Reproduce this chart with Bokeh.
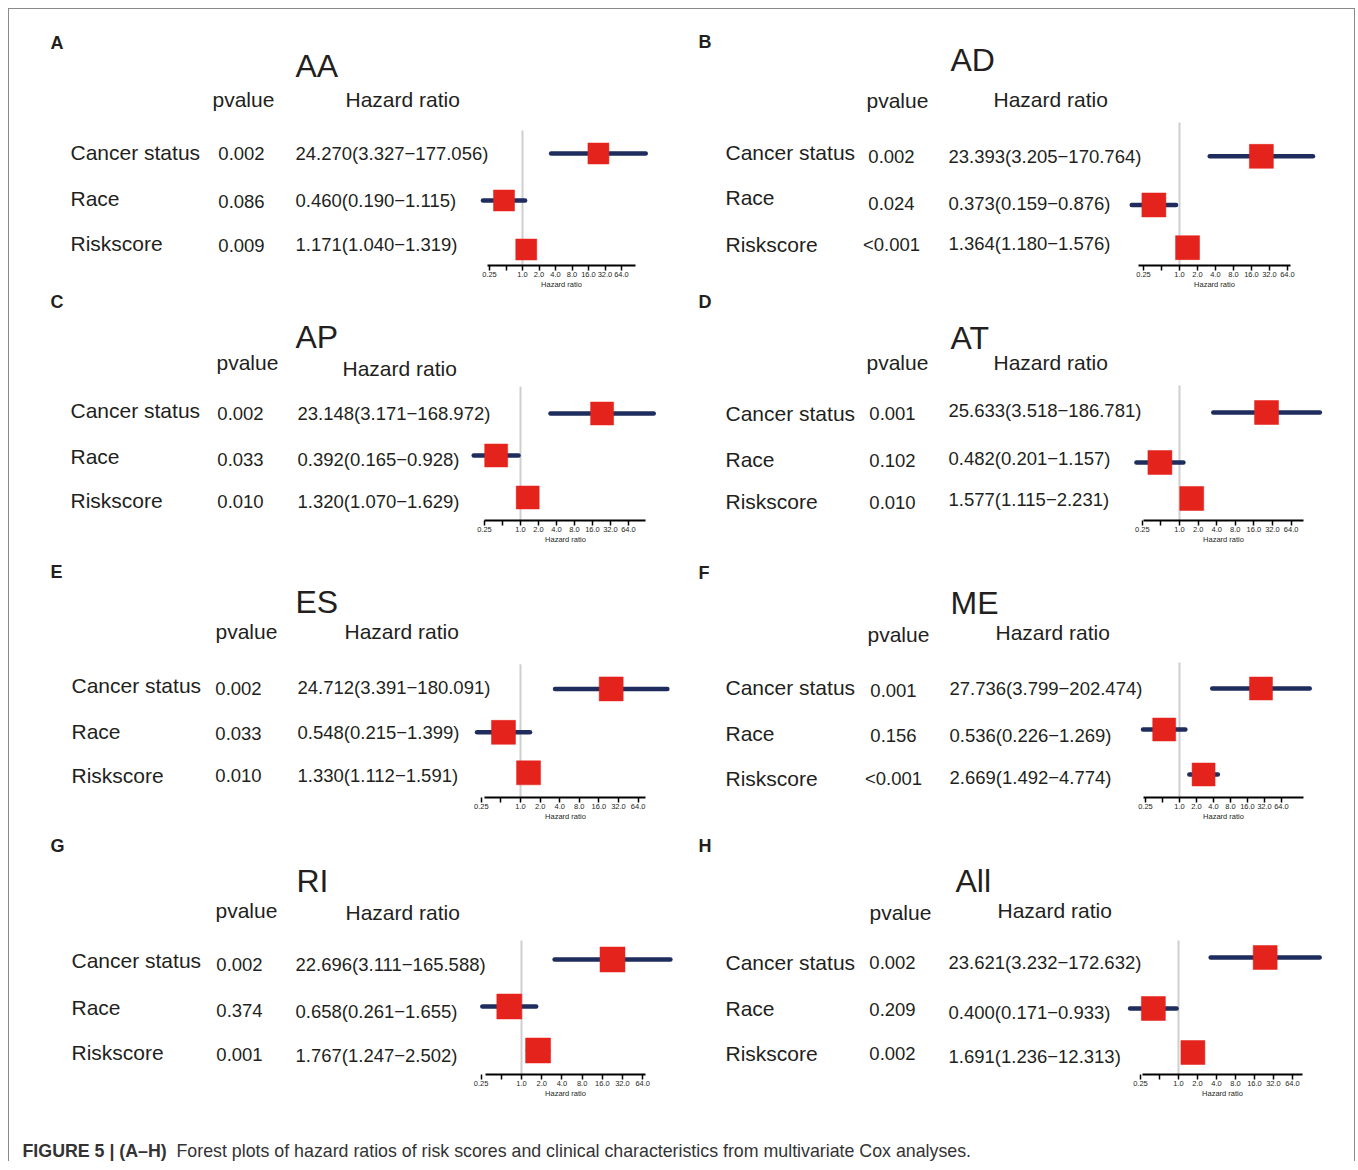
from bokeh.plotting import figure
from bokeh.models import Range1d, LogScale, LogAxis, LinearAxis, FixedTicker, CustomJSTickFormatter
from bokeh.layouts import column, row
from bokeh.embed import file_html
from bokeh.resources import INLINE
from bokeh.core.properties import value

# ---------------- data ----------------
PANEL_LETTERS = ["A", "B", "C", "D", "E", "F", "G", "H"]
COHORTS = ["AA", "AD", "AP", "AT", "ES", "ME", "RI", "All"]
VARIABLES = ["Cancer status", "Race", "Riskscore"]
HR = [[24.270, 0.460, 1.171], [23.393, 0.373, 1.364], [23.148, 0.392, 1.320], [25.633, 0.482, 1.577],
      [24.712, 0.548, 1.330], [27.736, 0.536, 2.669], [22.696, 0.658, 1.767], [23.621, 0.400, 1.691]]
LOWER = [[3.327, 0.190, 1.040], [3.205, 0.159, 1.180], [3.171, 0.165, 1.070], [3.518, 0.201, 1.115],
         [3.391, 0.215, 1.112], [3.799, 0.226, 1.492], [3.111, 0.261, 1.247], [3.232, 0.171, 1.236]]
UPPER = [[177.056, 1.115, 1.319], [170.764, 0.876, 1.576], [168.972, 0.928, 1.629], [186.781, 1.157, 2.231],
         [180.091, 1.399, 1.591], [202.474, 1.269, 4.774], [165.588, 1.655, 2.502], [172.632, 0.933, 2.313]]
PVALUES = [["0.002", "0.086", "0.009"], ["0.002", "0.024", "<0.001"], ["0.002", "0.033", "0.010"],
           ["0.001", "0.102", "0.010"], ["0.002", "0.033", "0.010"], ["0.001", "0.156", "<0.001"],
           ["0.002", "0.374", "0.001"], ["0.002", "0.209", "0.002"]]
HR_TEXT = [["24.270(3.327\u2212177.056)", "0.460(0.190\u22121.115)", "1.171(1.040\u22121.319)"],
           ["23.393(3.205\u2212170.764)", "0.373(0.159\u22120.876)", "1.364(1.180\u22121.576)"],
           ["23.148(3.171\u2212168.972)", "0.392(0.165\u22120.928)", "1.320(1.070\u22121.629)"],
           ["25.633(3.518\u2212186.781)", "0.482(0.201\u22121.157)", "1.577(1.115\u22122.231)"],
           ["24.712(3.391\u2212180.091)", "0.548(0.215\u22121.399)", "1.330(1.112\u22121.591)"],
           ["27.736(3.799\u2212202.474)", "0.536(0.226\u22121.269)", "2.669(1.492\u22124.774)"],
           ["22.696(3.111\u2212165.588)", "0.658(0.261\u22121.655)", "1.767(1.247\u22122.502)"],
           ["23.621(3.232\u2212172.632)", "0.400(0.171\u22120.933)", "1.691(1.236\u221212.313)"]]
AXIS_TICKS = [0.25, 0.5, 1, 2, 4, 8, 16, 32, 64]
CAPTION_BOLD = "FIGURE 5 | (A\u2013H)"
CAPTION_TEXT = "Forest plots of hazard ratios of risk scores and clinical characteristics from multivariate Cox analyses."

# ---------------- layout (page pixel positions) ----------------
COL_LEFT = [9, 681]
COL_W = [672, 673]
ROW_TOPS = [9, 292, 563, 833]
ROW_H = [283, 271, 270, 282]
CAP_H = 46

LAYOUT = [
    dict(letter=(50, 42), title=(295, 65), pvh=(212, 99), hrh=(345, 99), lab_x=70, lab_y=[152, 198, 243],
         pv_x=241, pv_y=[153, 201, 245], hrt_x=295, hrt_y=[153, 200, 244], rows=[153, 200, 249],
         ref_x=522, scale=16.5, ref_top=130, axis_y=265, axis_lr=(487, 635), box=21),
    dict(letter=(698, 42), title=(950, 60), pvh=(866, 101), hrh=(993, 100), lab_x=725, lab_y=[153, 198, 246],
         pv_x=891, pv_y=[157, 205, 246], hrt_x=948, hrt_y=[157, 205, 245], rows=[157, 206, 249],
         ref_x=1179, scale=18.0, ref_top=123, axis_y=267, axis_lr=(1138, 1290), box=24),
    dict(letter=(50, 301), title=(295, 336), pvh=(216, 362), hrh=(342, 368), lab_x=70, lab_y=[410, 456, 500],
         pv_x=240, pv_y=[413, 459, 501], hrt_x=297, hrt_y=[413, 459, 501], rows=[413, 455, 497],
         ref_x=520, scale=18.0, ref_top=386, axis_y=520, axis_lr=(484, 645), box=23),
    dict(letter=(698, 301), title=(950, 337), pvh=(866, 362), hrh=(993, 362), lab_x=725, lab_y=[413, 459, 501],
         pv_x=892, pv_y=[413, 460, 502], hrt_x=948, hrt_y=[410, 458, 499], rows=[412, 462, 498],
         ref_x=1179, scale=18.6, ref_top=385, axis_y=520, axis_lr=(1143, 1303), box=24),
    dict(letter=(50, 572), title=(295, 602), pvh=(215, 632), hrh=(344, 632), lab_x=71, lab_y=[687, 733, 778],
         pv_x=238, pv_y=[690, 735, 778], hrt_x=297, hrt_y=[689, 734, 778], rows=[690, 734, 775],
         ref_x=520, scale=19.6, ref_top=665, axis_y=800, axis_lr=(484, 645), box=24),
    dict(letter=(698, 572), title=(950, 602), pvh=(867, 634), hrh=(995, 632), lab_x=725, lab_y=[687, 733, 778],
         pv_x=893, pv_y=[690, 735, 778], hrt_x=949, hrt_y=[688, 735, 777], rows=[688, 729, 774],
         ref_x=1179, scale=17.0, ref_top=662, axis_y=797, axis_lr=(1143, 1303), box=23),
    dict(letter=(50, 845), title=(296, 880), pvh=(215, 910), hrh=(345, 912), lab_x=71, lab_y=[960, 1007, 1052],
         pv_x=239, pv_y=[964, 1010, 1054], hrt_x=295, hrt_y=[964, 1011, 1055], rows=[959, 1006, 1050],
         ref_x=521, scale=20.2, ref_top=940, axis_y=1074, axis_lr=(485, 645), box=25),
    dict(letter=(698, 845), title=(955, 880), pvh=(869, 912), hrh=(997, 910), lab_x=725, lab_y=[962, 1008, 1053],
         pv_x=892, pv_y=[962, 1009, 1053], hrt_x=948, hrt_y=[962, 1012, 1056], rows=[957, 1008, 1052],
         ref_x=1178, scale=19.0, ref_top=940, axis_y=1074, axis_lr=(1142, 1302), box=24),
]

FONT = "Liberation Sans"
TXT = "#231f20"
NAVY = "#1f2c5e"
RED = "#e5231d"
GRAY = "#cfcfcf"
FS_LAB, FS_HEAD, FS_NUM, FS_TITLE, FS_LETTER = 21, 21, 18.5, 32, 18


def make_panel(i):
    L = LAYOUT[i]
    c, r = i % 2, i // 2
    left, top, W, H = COL_LEFT[c], ROW_TOPS[r], COL_W[c], ROW_H[r]
    frame_h = L["axis_y"] - top
    ref = L["ref_x"] - left
    s = L["scale"]
    p = figure(width=W, height=H, x_range=Range1d(0, W), y_range=Range1d(frame_h, 0),
               x_axis_type=None, y_axis_type=None, toolbar_location=None, output_backend="svg",
               min_border_left=0, min_border_right=0, min_border_top=0, min_border_bottom=H - frame_h,
               outline_line_color=None, background_fill_color="white", border_fill_color="white")
    p.grid.visible = False
    p.extra_x_ranges = {"hr": Range1d(2 ** ((0 - ref) / s), 2 ** ((W - ref) / s))}
    p.extra_x_scales = {"hr": LogScale()}

    def tx(x, y, text, fs, align="left", bold=False):
        # y is the visual centre of the text line
        p.text(x=[xx - left for xx in x], y=[yy - top for yy in y], text=text,
               text_font=value(FONT), text_font_size=f"{fs}px", text_color=TXT,
               text_align=align, text_baseline="alphabetic",
               text_font_style="bold" if bold else "normal")

    tx([L["letter"][0]], [L["letter"][1]], [PANEL_LETTERS[i]], FS_LETTER, bold=True)
    tx([L["title"][0]], [L["title"][1]], [COHORTS[i]], FS_TITLE)
    tx([L["pvh"][0]], [L["pvh"][1]], ["pvalue"], FS_HEAD)
    tx([L["hrh"][0]], [L["hrh"][1]], ["Hazard ratio"], FS_HEAD)
    tx([L["lab_x"]] * 3, L["lab_y"], VARIABLES, FS_LAB)
    tx([L["pv_x"]] * 3, L["pv_y"], PVALUES[i], FS_NUM, align="center")
    tx([L["hrt_x"]] * 3, L["hrt_y"], HR_TEXT[i], FS_NUM)

    rows_rel = [y - top for y in L["rows"]]
    p.segment(x0=[1], x1=[1], y0=[L["ref_top"] - top], y1=[frame_h], x_range_name="hr",
              line_color=GRAY, line_width=2)
    p.segment(x0=LOWER[i], x1=UPPER[i], y0=rows_rel, y1=rows_rel, x_range_name="hr",
              line_color=NAVY, line_width=4.5, line_cap="round")
    p.scatter(x=HR[i], y=rows_rel, marker="square", size=L["box"], x_range_name="hr",
              fill_color=RED, line_color=RED, line_width=0.5)

    lo, hi = L["axis_lr"]
    ax = LogAxis(x_range_name="hr", ticker=FixedTicker(ticks=AXIS_TICKS, minor_ticks=[]),
                 formatter=CustomJSTickFormatter(code="""
                     if (Math.abs(tick - 0.5) < 1e-9) return "";
                     if (Math.abs(tick - 0.25) < 1e-9) return "0.25";
                     return tick.toFixed(1);"""),
                 bounds=(2 ** ((lo - L["ref_x"]) / s), 2 ** ((hi - L["ref_x"]) / s)),
                 major_label_text_font=FONT, major_label_text_font_size="7.5px", major_label_text_color=TXT,
                 major_label_standoff=1, major_tick_in=0, major_tick_out=5, minor_tick_in=0, minor_tick_out=0,
                 axis_line_width=2, axis_line_color="black", major_tick_line_width=1.5,
                 major_tick_line_color="black")
    p.add_layout(ax, "below")
    # axis title centred under the axis line (not under the whole frame)
    lab_ax = LinearAxis(ticker=FixedTicker(ticks=[round((lo + hi) / 2 - left)], minor_ticks=[]),
                        formatter=CustomJSTickFormatter(code="return 'Hazard ratio';"),
                        axis_line_color=None, major_tick_line_color=None, minor_tick_line_color=None,
                        major_tick_in=0, major_tick_out=0, major_label_standoff=0,
                        major_label_text_font=FONT, major_label_text_font_size="7.5px",
                        major_label_text_color=TXT)
    p.add_layout(lab_ax, "below")
    return p


panels = [make_panel(i) for i in range(8)]

cap_w = COL_W[0] + COL_W[1]
cap_top = ROW_TOPS[3] + ROW_H[3]
cap = figure(width=cap_w, height=CAP_H, x_range=Range1d(0, cap_w), y_range=Range1d(CAP_H, 0),
             x_axis_type=None, y_axis_type=None, toolbar_location=None, output_backend="svg",
             min_border=0, outline_line_color=None)
cap.grid.visible = False
CAP_FONT = "Liberation Sans"
cap.text(x=[22 - 9], y=[1150 - cap_top], text=[CAPTION_BOLD], text_font=value(CAP_FONT),
         text_font_size="17.8px", text_font_style="bold", text_color="#333333", text_baseline="alphabetic")
cap.text(x=[176 - 9], y=[1150 - cap_top], text=[CAPTION_TEXT], text_font=value(CAP_FONT),
         text_font_size="17.8px", text_color="#333333", text_baseline="alphabetic")

layout = column(row(panels[0], panels[1]), row(panels[2], panels[3]),
                row(panels[4], panels[5]), row(panels[6], panels[7]), cap,
                styles={"border": "1px solid #8a8a8a", "border-bottom": "none",
                        "margin-left": "8px", "margin-top": "8px"})

open("out.html", "w").write(file_html(layout, INLINE))
